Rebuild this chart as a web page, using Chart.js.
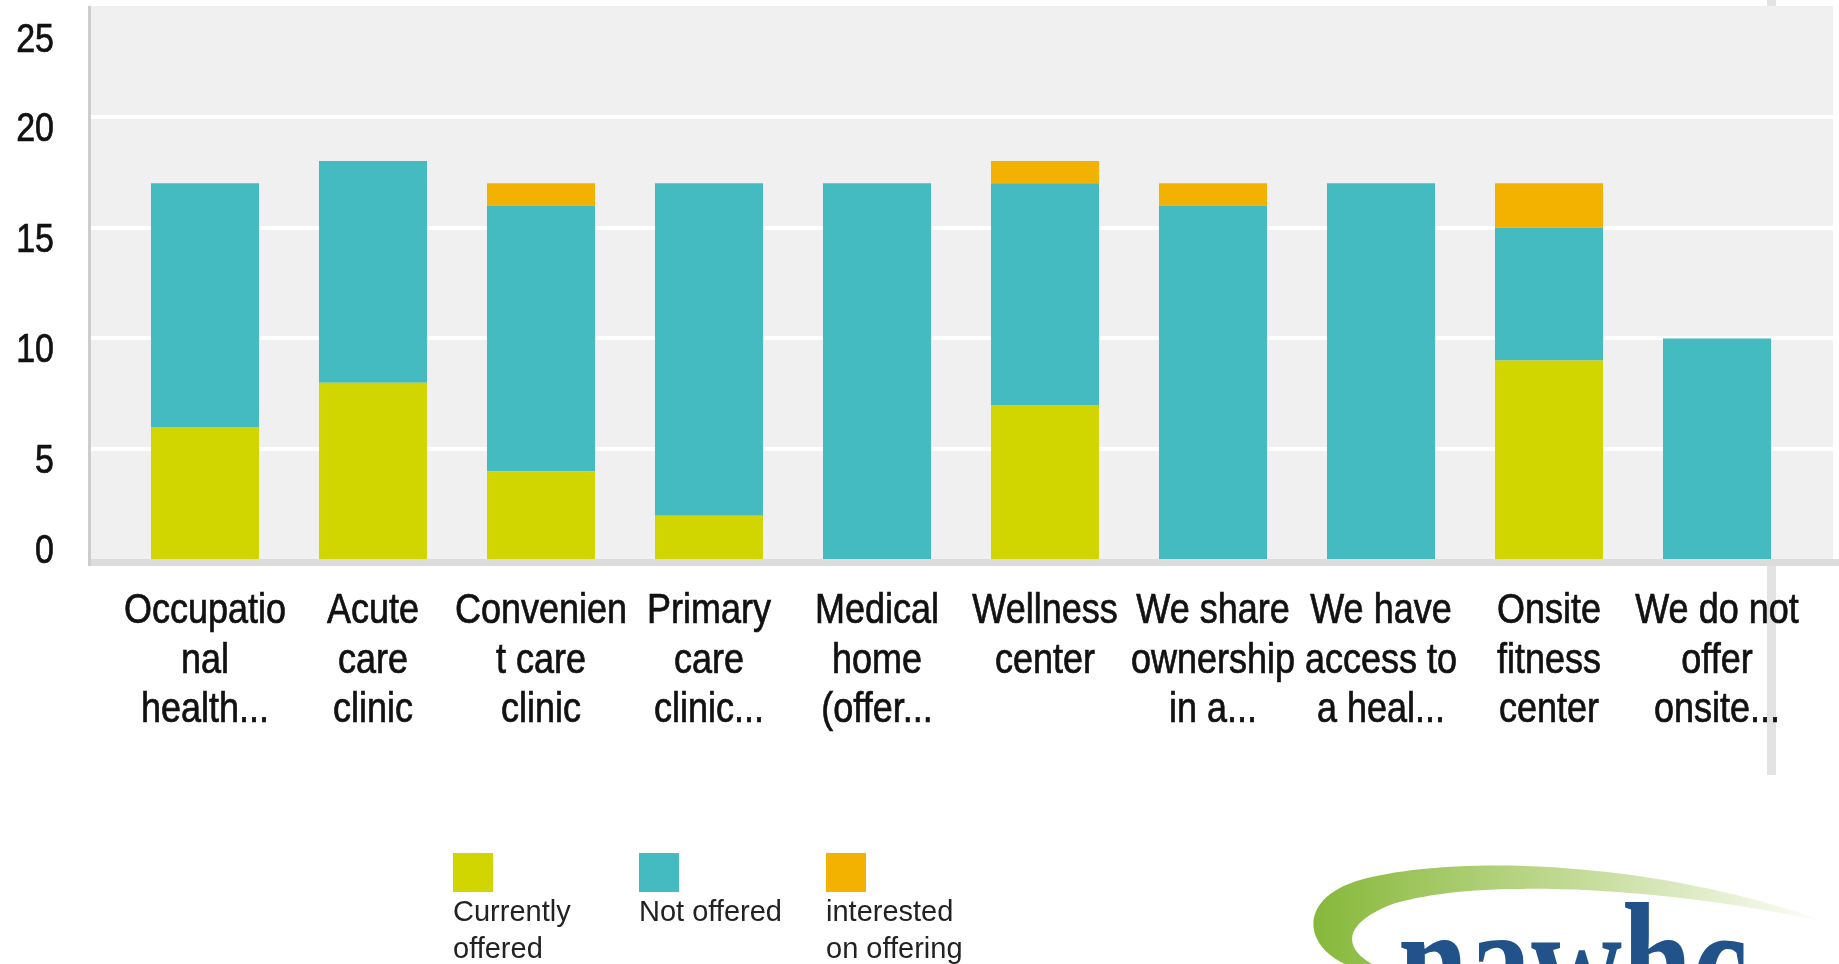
<!DOCTYPE html>
<html>
<head>
<meta charset="utf-8">
<script src="https://cdn.jsdelivr.net/npm/chart.js@4/dist/chart.umd.min.js"></script>
<style>
  html, body { margin: 0; padding: 0; background: #fff; overflow: hidden; }
  #wrap { position: relative; width: 1839px; height: 964px; }
  #chart { position: absolute; left: 0; top: 0; }
  #legend { position: absolute; left: 0; top: 0; width: 100%; height: 100%; pointer-events: none; }
  .item { position: absolute; top: 853px; font: 29px "Liberation Sans", Arial, sans-serif; color: #222; line-height: 37px; }
  .swatch { width: 40px; height: 39px; margin-bottom: 1px; }
  #logo { position: absolute; left: 0; top: 0; pointer-events: none; }
</style>
</head>
<body>
<div id="wrap">
  <canvas id="chart" width="1839" height="964"></canvas>
  <div id="legend"></div>
  <svg id="logo" width="1839" height="964" viewBox="0 0 1839 964">
    <defs>
      <linearGradient id="swoosh" gradientUnits="userSpaceOnUse" x1="1312" y1="0" x2="1830" y2="0">
        <stop offset="0" stop-color="#86b839"/>
        <stop offset="0.5" stop-color="#c2da94"/>
        <stop offset="1" stop-color="#ffffff"/>
      </linearGradient>
    </defs>
    <path fill="url(#swoosh)" d="M1345 964 C1303 945,1298 898,1360 880 C1450 855,1650 858,1830 923 C1660 885,1470 878,1390 905 C1343 924,1343 948,1372 964 Z"/>
    <text x="0" y="0" font-family="Liberation Serif" font-weight="bold" font-size="126" fill="#21538a"
          textLength="350" lengthAdjust="spacingAndGlyphs" transform="translate(1398,1020) scale(1,1.34)">nawhc</text>
  </svg>
</div>
<script>
const categories = [
  ['Occupatio', 'nal', 'health...'],
  ['Acute', 'care', 'clinic'],
  ['Convenien', 't care', 'clinic'],
  ['Primary', 'care', 'clinic...'],
  ['Medical', 'home', '(offer...'],
  ['Wellness', 'center'],
  ['We share', 'ownership', 'in a...'],
  ['We have', 'access to', 'a heal...'],
  ['Onsite', 'fitness', 'center'],
  ['We do not', 'offer', 'onsite...']
];
const currentlyOffered = [6, 8, 4, 2, 0, 7, 0, 0, 9, 0];
const notOffered = [11, 10, 12, 15, 17, 10, 16, 17, 6, 10];
const interestedOffering = [0, 0, 1, 0, 0, 1, 1, 0, 2, 0];
const seriesNames = [['Currently', 'offered'], ['Not offered'], ['interested', 'on offering']];
const seriesColors = ['#d2d600', '#43bbc1', '#f3b200'];
const yTicks = [0, 5, 10, 15, 20, 25];

// text in the source image is stretched vertically, so labels are drawn here
function tallText(ctx, str, x, y) {
  ctx.save();
  ctx.translate(x, y);
  ctx.scale(1, 1.2);
  ctx.strokeText(str, 0, 0);
  ctx.fillText(str, 0, 0);
  ctx.restore();
}

// plot backdrop, gridlines, axis lines and labels drawn like the original
const plotFrame = {
  id: 'plotFrame',
  beforeDraw(chart) {
    const { ctx, chartArea: a, scales: { y } } = chart;
    ctx.save();
    ctx.fillStyle = '#e3e3e3';
    ctx.fillRect(1767, 0, 9, 775);
    ctx.fillStyle = '#eff0ef';
    ctx.fillRect(a.left - 30, a.top, a.right - a.left + 62, a.bottom - a.top);
    ctx.fillStyle = '#ffffff';
    yTicks.slice(1, -1).forEach(v => {
      const py = Math.round(y.getPixelForValue(v));
      ctx.fillRect(a.left - 30, py - 2, a.right - a.left + 62, 4);
    });
    ctx.restore();
  },
  afterDatasetsDraw(chart) {
    const { ctx, chartArea: a, scales: { x, y } } = chart;
    ctx.save();
    ctx.fillStyle = '#dcdcdc';
    ctx.fillRect(a.left - 33, a.bottom - 1, 1839 - (a.left - 33), 7);
    ctx.fillStyle = '#cdcdcd';
    ctx.fillRect(a.left - 33, a.top, 3, a.bottom - a.top + 6);

    ctx.fillStyle = '#111';
    ctx.strokeStyle = '#111';
    ctx.lineWidth = 0.6;
    ctx.textBaseline = 'alphabetic';

    ctx.font = '34px "Liberation Sans", Arial, sans-serif';
    ctx.textAlign = 'right';
    yTicks.forEach(v => {
      const py = y.getPixelForValue(v);
      const ly = Math.min(Math.max(py + 24, a.top + 46), a.bottom + 3);
      tallText(ctx, String(v), 54, ly);
    });

    ctx.font = '36px "Liberation Sans", Arial, sans-serif';
    ctx.textAlign = 'center';
    categories.forEach((lines, i) => {
      const cx = x.getPixelForValue(i);
      lines.forEach((line, j) => tallText(ctx, line, cx, a.bottom + 63 + j * 49.5));
    });
    ctx.restore();
  }
};

const ctx = document.getElementById('chart').getContext('2d');
new Chart(ctx, {
  type: 'bar',
  data: {
    labels: categories,
    datasets: [
      { label: seriesNames[0].join(' '), data: currentlyOffered, backgroundColor: seriesColors[0] },
      { label: seriesNames[1].join(' '), data: notOffered, backgroundColor: seriesColors[1] },
      { label: seriesNames[2].join(' '), data: interestedOffering, backgroundColor: seriesColors[2] }
    ]
  },
  options: {
    responsive: false,
    animation: false,
    devicePixelRatio: 1,
    layout: { padding: { top: 6, right: 38, left: 0, bottom: 0 } },
    datasets: { bar: { categoryPercentage: 0.643, barPercentage: 1, borderWidth: 0 } },
    plugins: { legend: { display: false }, tooltip: { enabled: false } },
    scales: {
      x: {
        stacked: true,
        grid: { display: false },
        border: { display: false },
        ticks: { display: false },
        afterFit(scale) { scale.height = 404; }
      },
      y: {
        stacked: true,
        min: 0,
        max: 25,
        ticks: { stepSize: 5, display: false },
        grid: { display: false },
        border: { display: false },
        afterFit(scale) { scale.width = 121; }
      }
    }
  },
  plugins: [plotFrame]
});

// legend: swatch above wrapped text
const legendX = [453, 639, 826];
const legend = document.getElementById('legend');
seriesNames.forEach((name, i) => {
  const item = document.createElement('div');
  item.className = 'item';
  item.style.left = legendX[i] + 'px';
  item.innerHTML = `<div class="swatch" style="background:${seriesColors[i]}"></div>${name.join('<br>')}`;
  legend.appendChild(item);
});
</script>
</body>
</html>
